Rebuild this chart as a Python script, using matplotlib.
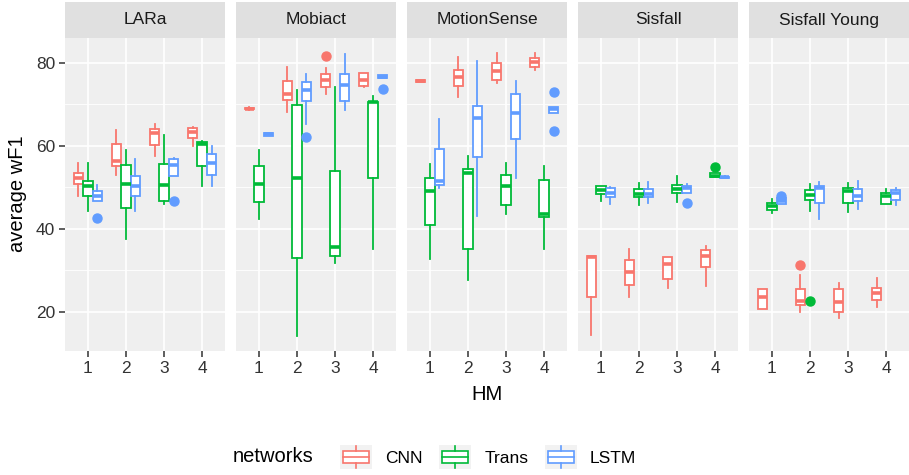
import numpy as np
import matplotlib
matplotlib.use("Agg")
import matplotlib.pyplot as plt
from matplotlib.patches import Rectangle
from matplotlib.lines import Line2D
from matplotlib.legend_handler import HandlerBase

plt.rcParams['font.family'] = ['Liberation Sans', 'DejaVu Sans']

# ---------------- data (whislo, q1, median, q3, whishi) per HM 1..4 ----------------
datasets = ["LARa", "Mobiact", "MotionSense", "Sisfall", "Sisfall Young"]
networks = ["CNN", "Trans", "LSTM"]
hm = [1, 2, 3, 4]

lara_cnn = [(47.9, 50.7, 52.3, 53.4, 55.9), (53.0, 55.0, 56.2, 60.4, 63.8),
            (57.5, 60.2, 63.0, 64.0, 65.2), (59.9, 61.9, 63.2, 64.2, 64.4)]
lara_trans = [(44.2, 48.0, 50.2, 51.5, 55.8), (37.5, 45.1, 50.7, 55.4, 59.0),
              (46.0, 46.7, 50.6, 55.6, 62.5), (50.4, 55.2, 60.4, 60.8, 61.2)]
lara_lstm = [(46.6, 46.6, 47.8, 49.2, 50.6), (44.2, 47.8, 50.3, 52.8, 56.7),
             (52.6, 52.7, 55.4, 56.8, 57.0), (50.4, 53.0, 55.8, 57.9, 59.9)]

mob_cnn = [(68.6, 68.7, 68.9, 69.1, 69.2), (68.0, 70.9, 72.5, 75.6, 78.9),
           (72.5, 74.2, 75.7, 77.2, 78.6), (74.1, 74.4, 75.8, 77.4, 77.4)]
mob_trans = [(42.3, 46.4, 50.7, 55.0, 59.0), (14.2, 32.9, 52.3, 69.7, 73.4),
             (31.7, 33.5, 35.7, 53.9, 74.0), (35.1, 52.2, 70.4, 70.6, 72.0)]
mob_lstm = [(62.3, 62.4, 62.7, 63.0, 63.1), (65.2, 70.8, 73.4, 75.3, 77.2),
            (68.6, 70.8, 74.6, 77.2, 82.0), (76.2, 76.3, 76.6, 76.9, 77.0)]

ms_cnn = [(75.3, 75.4, 75.6, 75.8, 75.9), (71.7, 74.4, 76.6, 78.1, 81.3),
          (75.1, 75.7, 78.0, 79.8, 82.2), (78.2, 78.9, 80.1, 81.1, 82.2)]
ms_trans = [(32.7, 40.8, 49.1, 52.3, 55.5), (27.6, 35.1, 53.4, 54.3, 57.6),
            (43.6, 45.8, 50.4, 52.9, 55.9), (35.2, 42.8, 43.5, 51.8, 55.0)]
ms_lstm = [(49.8, 50.6, 51.4, 59.1, 66.4), (43.1, 57.2, 66.6, 69.6, 80.4),
           (52.3, 61.6, 67.8, 72.5, 75.6), (67.8, 67.8, 68.8, 69.4, 69.4)]

sf_cnn = [(14.5, 23.7, 33.3, 33.5, 33.5), (23.7, 26.4, 29.5, 32.4, 35.1),
          (25.7, 27.9, 31.5, 33.1, 33.1), (26.3, 30.8, 33.4, 35.0, 35.8)]
sf_trans = [(46.8, 48.3, 49.4, 50.3, 50.3), (45.8, 47.6, 48.3, 49.5, 51.0),
            (46.4, 48.7, 49.6, 50.6, 52.6), (52.4, 52.4, 52.8, 53.4, 53.4)]
sf_lstm = [(45.9, 47.6, 48.6, 49.8, 50.0), (46.3, 47.6, 48.4, 49.5, 51.2),
           (48.6, 48.6, 49.8, 50.2, 50.8), (52.2, 52.3, 52.4, 52.5, 52.6)]

sy_cnn = [(20.8, 20.8, 23.5, 25.6, 25.6), (19.9, 21.6, 22.7, 25.4, 29.0),
          (18.5, 20.0, 22.5, 25.6, 26.9), (21.3, 22.9, 24.5, 25.8, 28.2)]
sy_trans = [(43.9, 44.6, 45.4, 46.3, 47.1), (44.3, 47.0, 48.2, 49.4, 50.8),
            (44.0, 46.2, 49.0, 49.8, 51.0), (46.0, 46.0, 47.8, 48.6, 49.5)]
sy_lstm = [(46.0, 46.0, 46.6, 47.4, 47.4), (42.3, 46.3, 49.9, 50.3, 51.2),
           (44.8, 46.6, 48.0, 49.5, 51.6), (45.8, 47.0, 48.6, 49.4, 49.8)]

# outliers: (dataset, network, HM, value)
outliers = [("LARa", "LSTM", 1, 42.7), ("LARa", "LSTM", 3, 46.6),
            ("Mobiact", "LSTM", 2, 62.2), ("Mobiact", "CNN", 3, 81.6),
            ("Mobiact", "LSTM", 4, 73.7),
            ("MotionSense", "LSTM", 4, 73.0), ("MotionSense", "LSTM", 4, 63.6),
            ("Sisfall", "Trans", 4, 54.8), ("Sisfall", "LSTM", 3, 46.2),
            ("Sisfall Young", "CNN", 2, 31.3), ("Sisfall Young", "Trans", 2, 22.7),
            ("Sisfall Young", "LSTM", 1, 47.8)]

table = {
    "LARa": [lara_cnn, lara_trans, lara_lstm],
    "Mobiact": [mob_cnn, mob_trans, mob_lstm],
    "MotionSense": [ms_cnn, ms_trans, ms_lstm],
    "Sisfall": [sf_cnn, sf_trans, sf_lstm],
    "Sisfall Young": [sy_cnn, sy_trans, sy_lstm],
}

colors = ['#F8766D', '#00BA38', '#619CFF']
offsets = [-0.25, 0.0, 0.25]

# ---------------- layout (pixels of a 909x475 canvas) ----------------
W, H = 909, 475
fig = plt.figure(figsize=(W / 100, H / 100), dpi=100)

panel_left = 65
panel_w = 160
panel_step = 171
panel_top = 38
panel_bot = 351
strip_top = 2

for k, name in enumerate(datasets):
    x0 = (panel_left + k * panel_step) / W
    ax = fig.add_axes([x0, (H - panel_bot) / H, panel_w / W, (panel_bot - panel_top) / H])
    ax.set_facecolor('#EFEFEF')
    for s in ax.spines.values():
        s.set_visible(False)

    for j, net in enumerate(networks):
        c = colors[j]
        stats = []
        for i, h in enumerate(hm):
            lo, q1, med, q3, hi = table[name][j][i]
            fl = [o[3] for o in outliers if o[0] == name and o[1] == net and o[2] == h]
            stats.append(dict(whislo=lo, q1=q1, med=med, q3=q3, whishi=hi, fliers=fl))
        pos = [h + offsets[j] for h in hm]
        ax.bxp(stats, positions=pos, widths=0.25, patch_artist=True, showcaps=False,
               manage_ticks=False,
               boxprops=dict(facecolor='white', edgecolor=c, linewidth=1.3),
               medianprops=dict(color=c, linewidth=2.6, solid_capstyle='butt'),
               whiskerprops=dict(color=c, linewidth=1.3),
               flierprops=dict(marker='o', markerfacecolor=c, markeredgecolor=c,
                               markersize=6.5, linestyle='none'))

    ax.set_xlim(0.4, 4.6)
    ax.set_ylim(10.6, 85.9)
    ax.set_xticks(hm)
    ax.set_xticklabels([str(h) for h in hm])
    ax.set_yticks([20, 40, 60, 80])
    ax.set_yticks([30, 50, 70], minor=True)
    ax.set_axisbelow(True)
    ax.grid(True, which='major', color='white', linewidth=1.2)
    ax.grid(True, which='minor', axis='y', color='white', linewidth=0.6)
    ax.tick_params(axis='both', which='major', length=4, width=1.1, color='#333333',
                   labelsize=12.5, labelcolor='#333333', pad=3)
    ax.tick_params(axis='y', which='minor', length=0)
    if k > 0:
        ax.tick_params(axis='y', left=False, labelleft=False)

    # strip on top of the panel
    sax = fig.add_axes([x0, (H - panel_top) / H, panel_w / W, (panel_top - strip_top) / H])
    sax.set_facecolor('#E0E0E0')
    sax.set_xticks([])
    sax.set_yticks([])
    for s in sax.spines.values():
        s.set_visible(False)
    sax.text(0.5, 0.5, name, ha='center', va='center', fontsize=12.5, color='#1A1A1A',
             transform=sax.transAxes)

# axis titles
fig.text(18 / W, 1 - 194 / H, "average wF1", rotation=90, ha='center', va='center',
         fontsize=14.5, color='black')
fig.text(487 / W, 1 - 395 / H, "HM", ha='center', va='center', fontsize=14.5, color='black')


# legend with boxplot keys
class BoxHandler(HandlerBase):
    def create_artists(self, legend, orig_handle, xdescent, ydescent, width, height,
                       fontsize, trans):
        c = orig_handle.get_edgecolor()
        x0, y0 = -xdescent, -ydescent
        bg = Rectangle((x0, y0), width, height, facecolor='#F2F2F2', edgecolor='none',
                       transform=trans)
        box = Rectangle((x0 + width * 0.1, y0 + height * 0.25), width * 0.8, height * 0.5,
                        facecolor='white', edgecolor=c, linewidth=1.2, transform=trans)
        med = Line2D([x0 + width * 0.1, x0 + width * 0.9], [y0 + height / 2] * 2,
                     color=c, linewidth=1.2, transform=trans)
        wt = Line2D([x0 + width / 2] * 2, [y0 + height * 0.75, y0 + height * 0.95],
                    color=c, linewidth=1.2, transform=trans)
        wb = Line2D([x0 + width / 2] * 2, [y0 + height * 0.05, y0 + height * 0.25],
                    color=c, linewidth=1.2, transform=trans)
        return [bg, box, med, wt, wb]


handles = [Rectangle((0, 0), 1, 1, facecolor='white', edgecolor=c) for c in colors]
fig.text(233 / W, 1 - 457 / H, "networks", ha='left', va='center', fontsize=14.5, color='black')
fig.legend(handles, networks, loc='center left', bbox_to_anchor=(340 / W, 1 - 457 / H),
           ncol=3, frameon=False, fontsize=12.5, handler_map={Rectangle: BoxHandler()},
           handlelength=1.85, handleheight=1.75, handletextpad=0.75, columnspacing=0.95,
           borderpad=0, borderaxespad=0)

fig.savefig("out.png", dpi=100)
